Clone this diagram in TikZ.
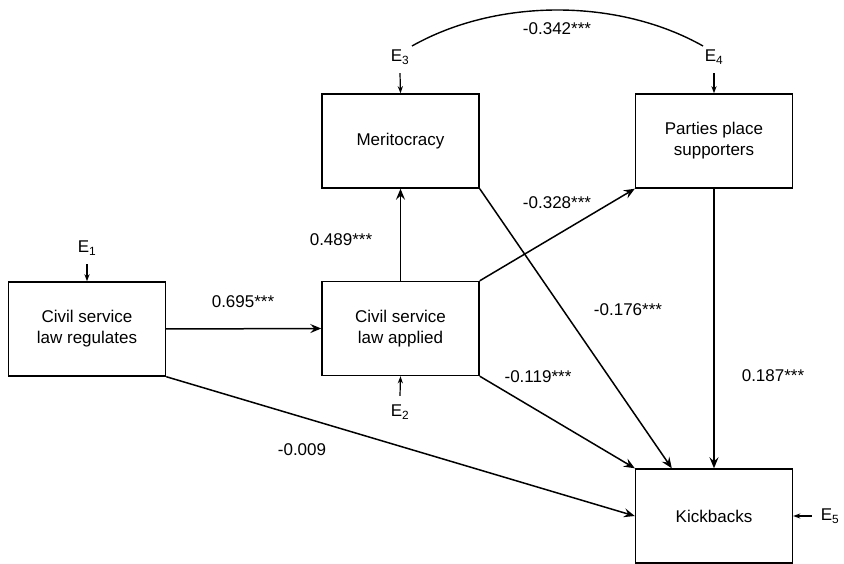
\documentclass[tikz,border=0pt]{standalone}
\usepackage{fontspec}
\setmainfont{Liberation Sans}
\usetikzlibrary{arrows.meta,calc}
\begin{document}
\begin{tikzpicture}[x=1pt,y=-1pt,
  box/.style={draw, line width=1.4pt, minimum width=157pt, minimum height=94pt,
    align=center, inner sep=0pt, font=\fontsize{17}{21}\selectfont},
  lab/.style={inner sep=0pt, font=\fontsize{17}{20}\selectfont},
  errv/.style={inner sep=0pt, outer sep=9pt, font=\fontsize{17}{20}\selectfont},
  conn/.style={line width=1.5pt, -{Stealth[length=11pt,width=9pt,inset=4pt]}},
  econn/.style={line width=1.2pt, -{Stealth[length=7pt,width=5pt,inset=2pt]}},
]
\useasboundingbox (0,0) rectangle (844,564);

% boxes
\node[box] (reg)  at (87,329)    {Civil service\\law regulates};
\node[box] (app)  at (400.5,328.5) {Civil service\\law applied};
\node[box] (mer)  at (400.5,141) {Meritocracy};
\node[box] (par)  at (714,141)   {Parties place\\supporters};
\node[box] (kick) at (714,516)   {Kickbacks};

% error terms
\node[errv] (E1) at (87,248)  {E\textsubscript{1}};
\node[errv] (E2) at (400,412) {E\textsubscript{2}};
\node[errv] (E3) at (400,57)  {E\textsubscript{3}};
\node[errv] (E4) at (714,57)  {E\textsubscript{4}};
\node[errv] (E5) at (830,516) {E\textsubscript{5}};

\draw[econn] (E1.south) -- (reg.north);
\draw[econn] (E2.north) -- (app.south);
\draw[econn] (E3.south) -- (mer.north);
\draw[econn] (E4.south) -- (par.north);
\draw[econn] (E5.west) -- (kick.east);

% covariance arc
\coordinate (c3) at (412,46);
\coordinate (c4) at (703,46);
\draw[line width=1.4pt] (c3) .. controls +(85,-48) and +(-85,-48) .. (c4);

% paths
\draw[conn] (reg.east) -- (app.west);
\draw[conn] (app.north) -- (mer.south);
\draw[conn] (app.north east) -- (par.south west);
\draw[conn] (app.south east) -- (kick.north west);
\draw[conn] (mer.south east) -- ($(kick.north west)+(37,0)$);
\draw[conn] (par.south) -- (kick.north);
\draw[conn] (reg.south east) -- (kick.west);

% coefficients
\node[lab] (l1) at (243,302) {0.695***};
\node[lab] (l2) at (341,240) {0.489***};
\node[lab] (l3) at (557,203) {-0.328***};
\node[lab] (l4) at (628,310) {-0.176***};
\node[lab] (l5) at (538,377) {-0.119***};
\node[lab] (l6) at (773,376) {0.187***};
\node[lab] (l7) at (302,450) {-0.009};
\node[lab] (l8) at (557,29)  {-0.342***};
\end{tikzpicture}
\end{document}
